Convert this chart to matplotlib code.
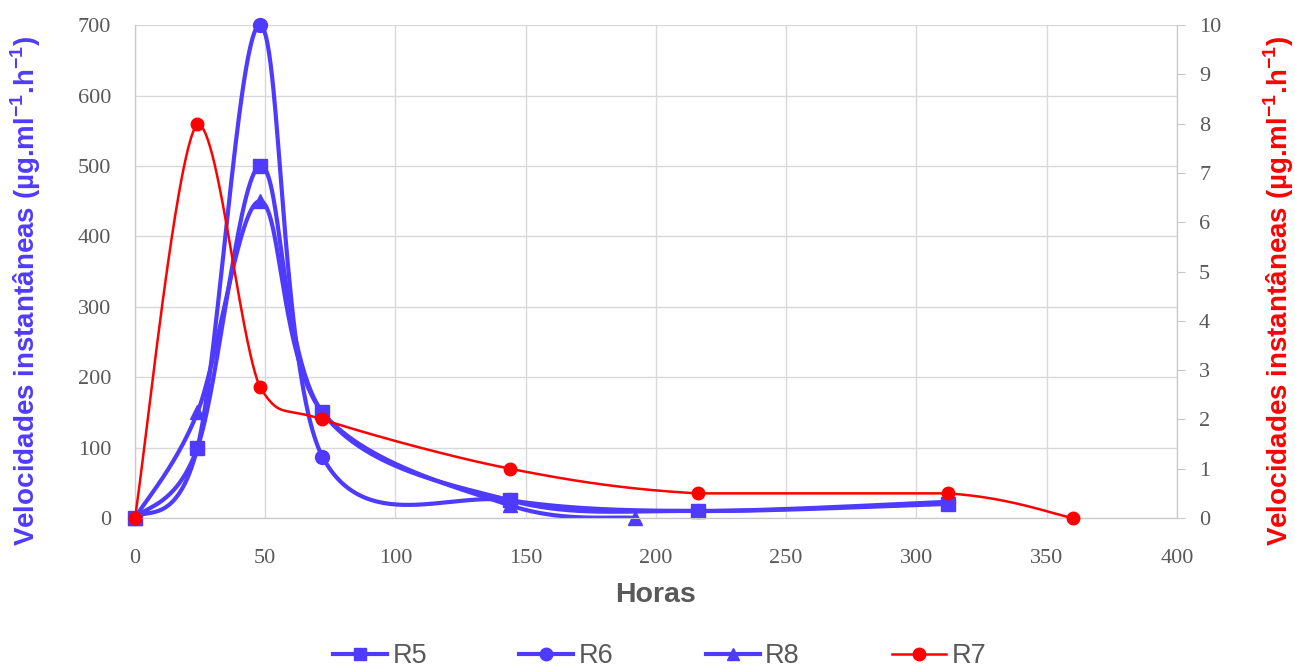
import matplotlib.pyplot as plt
import numpy as np

# Sampling times (hours) and instantaneous rates per reactor
horas_r5 = [0, 24, 48, 72, 144, 216, 312]
r5 = [0, 100, 500, 150, 25, 10, 20]

horas_r6 = [0, 24, 48, 72, 144, 216, 312]
r6 = [0, 100, 700, 87, 25, 10, 23]

horas_r8 = [0, 24, 48, 72, 144, 192]
r8 = [0, 150, 450, 150, 18, 0]

horas_r7 = [0, 24, 48, 72, 144, 216, 312, 360]
r7 = [0, 8, 2.65, 2, 1, 0.5, 0.5, 0]

AZUL = '#4F3AFF'
VERMELHO = '#FF0000'
CINZA = '#595959'

plt.rcParams['mathtext.fontset'] = 'custom'
plt.rcParams['mathtext.rm'] = 'Liberation Sans'
plt.rcParams['mathtext.bf'] = 'Liberation Sans:bold'


def suavizar(x, y, n=60, limitar=False):
    # Bezier smoothing through the points; limitar keeps the control
    # points inside each segment's y-range (no overshoot)
    x = np.asarray(x, float)
    y = np.asarray(y, float)
    xs, ys = [x[0]], [y[0]]
    for i in range(len(x) - 1):
        i0 = max(i - 1, 0)
        i3 = min(i + 2, len(x) - 1)
        c1x = x[i] + (x[i + 1] - x[i0]) / 6
        c1y = y[i] + (y[i + 1] - y[i0]) / 6
        c2x = x[i + 1] - (x[i3] - x[i]) / 6
        c2y = y[i + 1] - (y[i3] - y[i]) / 6
        if limitar:
            lo, hi = min(y[i], y[i + 1]), max(y[i], y[i + 1])
            c1y = np.clip(c1y, lo, hi)
            c2y = np.clip(c2y, lo, hi)
        t = np.linspace(0, 1, n)[1:]
        a, b, c, d = (1 - t) ** 3, 3 * (1 - t) ** 2 * t, 3 * (1 - t) * t ** 2, t ** 3
        xs.extend(a * x[i] + b * c1x + c * c2x + d * x[i + 1])
        ys.extend(a * y[i] + b * c1y + c * c2y + d * y[i + 1])
    return xs, ys


fig = plt.figure(figsize=(12.95, 6.71), dpi=100)
ax = fig.add_axes([0.1042, 0.228, 0.8046, 0.7345])
ax2 = ax.twinx()

series = [
    (horas_r5, r5, 's', 'R5'),
    (horas_r6, r6, 'o', 'R6'),
    (horas_r8, r8, '^', 'R8'),
]
handles = []
for hx, hy, mk, nome in series:
    sx, sy = suavizar(hx, hy)
    ax.plot(sx, sy, color=AZUL, lw=3, solid_capstyle='round', zorder=3)
    ax.plot(hx, hy, mk, color=AZUL, ms=10, zorder=4, clip_on=False)
    h, = ax.plot([], [], color=AZUL, lw=3, marker=mk, ms=9, label=nome)
    handles.append(h)

# R7 on the secondary axis, drawn above the blue series
sx, sy = suavizar(horas_r7, r7, limitar=True)
ax2.plot(sx, sy, color=VERMELHO, lw=1.8, zorder=3)
ax2.plot(horas_r7, r7, 'o', color=VERMELHO, ms=9, zorder=4, clip_on=False)
h, = ax2.plot([], [], color=VERMELHO, lw=1.8, marker='o', ms=9, label='R7')
handles.append(h)

ax.set_xlim(0, 400)
ax.set_ylim(0, 700)
ax2.set_ylim(0, 10)
ax.set_xticks(range(0, 401, 50))
ax.set_yticks(range(0, 701, 100))
ax2.set_yticks(range(0, 11, 1))
ax.grid(True, color='#d9d9d9', lw=1)
ax.set_axisbelow(True)

for a in (ax, ax2):
    for s in a.spines.values():
        s.set_color('#c8c8c8')
    a.spines['top'].set_visible(False)
    a.tick_params(colors='#c8c8c8', labelcolor=CINZA, labelsize=16)
    for lab in a.get_xticklabels() + a.get_yticklabels():
        lab.set_family('Liberation Serif')
ax.tick_params(axis='y', length=0, pad=17)
ax.tick_params(axis='x', length=0, pad=22)
ax2.tick_params(axis='y', length=6, pad=10)

rotulo = 'Velocidades instantâneas (µg.ml$^{\\mathbf{-1}}$.h$^{\\mathbf{-1}}$)'
ax.set_xlabel('Horas', fontsize=20.5, fontweight='bold', color=CINZA,
              family='Liberation Sans')
ax.xaxis.set_label_coords(0.5, -0.13)
ax.set_ylabel(rotulo, fontsize=20, fontweight='bold', color=AZUL,
              family='Liberation Sans', va='center')
ax.yaxis.set_label_coords(-0.105, 0.46)
ax2.set_ylabel(rotulo, fontsize=20, fontweight='bold', color=VERMELHO,
               family='Liberation Sans', va='center', rotation=90)
ax2.yaxis.set_label_coords(1.098, 0.46)

fig.legend(handles=handles, loc='center left', bbox_to_anchor=(0.257, 0.022), ncol=4,
           frameon=False, handlelength=2.0, columnspacing=3.4, handletextpad=0.2,
           borderpad=0, borderaxespad=0,
           prop={'family': 'Liberation Sans', 'size': 19.5}, labelcolor=CINZA)

fig.savefig('out.png', dpi=100)
